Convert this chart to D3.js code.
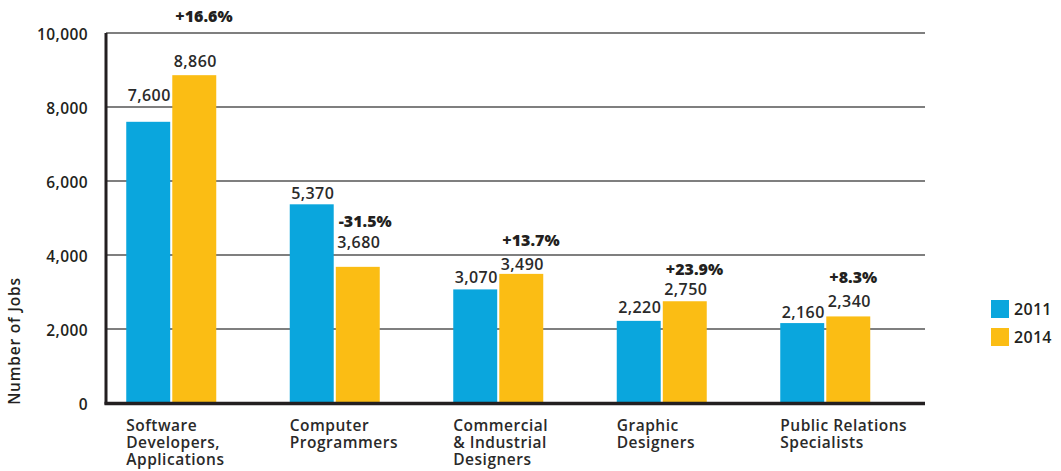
<!DOCTYPE html>
<html>
<head>
<meta charset="utf-8">
<script src="https://cdn.jsdelivr.net/npm/d3@7"></script>
<style>
  html, body { margin: 0; padding: 0; background: #fff; }
  svg { display: block; font-family: "Open Sans", "Noto Sans", sans-serif; }
</style>
</head>
<body>
<svg id="chart" width="1061" height="471"></svg>
<script>
// Job counts by occupation, 2011 vs 2014
const categories = [
  ["Software", "Developers,", "Applications"],
  ["Computer", "Programmers"],
  ["Commercial", "& Industrial", "Designers"],
  ["Graphic", "Designers"],
  ["Public Relations", "Specialists"]
];
const years = ["2011", "2014"];
const jobs2011 = [7600, 5370, 3070, 2220, 2160];
const jobs2014 = [8860, 3680, 3490, 2750, 2340];
const changeLabels = ["+16.6%", "-31.5%", "+13.7%", "+23.9%", "+8.3%"];
const yTicks = [0, 2000, 4000, 6000, 8000, 10000];

// Label placement tweaks (pixels above the bar top)
const lift2011 = [21, 5, 6, 8, 5];
const lift2014 = [8, 19, 4, 6, 9];
const pctAboveValue = [45, 21, 24, 20, 24];

const colors = { "2011": "#0AA6DD", "2014": "#FBBD14" };
const ink = "#231f20";
const txt = "#2a2a2a";

const svg = d3.select("#chart");
const plot = { left: 106, right: 925, top: 33, bottom: 403 };

const y = d3.scaleLinear().domain([0, 10000]).range([plot.bottom, plot.top]);
const x = d3.scaleBand().domain(d3.range(categories.length)).range([89.5, 907]);
const groupW = 90;
const xs = d3.scaleBand().domain(years).range([0, groupW]).paddingInner(0.045);

// Gridlines
svg.append("g")
  .selectAll("line")
  .data(yTicks.filter(d => d > 0))
  .join("line")
  .attr("x1", plot.left)
  .attr("x2", plot.right)
  .attr("y1", d => y(d))
  .attr("y2", d => y(d))
  .attr("stroke", "#555")
  .attr("stroke-width", 1.4);

// Tick labels
const yAxis = d3.axisLeft(y).tickValues(yTicks).tickSize(0).tickPadding(0)
  .tickFormat(d3.format(","));
const gy = svg.append("g").attr("transform", `translate(88,0)`).call(yAxis);
gy.select(".domain").remove();
gy.selectAll("text")
  .attr("font-family", "'Open Sans', sans-serif")
  .attr("font-size", 15.5)
  .attr("font-weight", 600)
  .attr("letter-spacing", 0.4)
  .attr("fill", ink)
  .attr("dy", "0.45em");

// Bars
const groups = svg.append("g").selectAll("g")
  .data(categories.map((c, i) => ({ i, v: [jobs2011[i], jobs2014[i]] })))
  .join("g")
  .attr("transform", d => `translate(${x(d.i) + (x.bandwidth() - groupW) / 2},0)`);

groups.selectAll("rect")
  .data(d => years.map((yr, k) => ({ yr, v: d.v[k] })))
  .join("rect")
  .attr("x", d => xs(d.yr))
  .attr("width", xs.bandwidth())
  .attr("y", d => y(d.v))
  .attr("height", d => y(0) - y(d.v))
  .attr("fill", d => colors[d.yr]);

// Value and change labels
groups.each(function (d) {
  const g = d3.select(this);
  const lifts = [lift2011[d.i], lift2014[d.i]];
  years.forEach((yr, k) => {
    g.append("text")
      .attr("x", xs(yr) + xs.bandwidth() / 2 + 1)
      .attr("y", y(d.v[k]) - lifts[k])
      .attr("text-anchor", "middle")
      .attr("font-size", 16)
      .attr("font-weight", 600)
      .attr("letter-spacing", 0.4)
      .attr("fill", txt)
      .text(d3.format(",")(d.v[k]));
  });
  g.append("text")
    .attr("x", xs("2014") + 3)
    .attr("y", y(d.v[1]) - lifts[1] - pctAboveValue[d.i])
    .attr("font-size", 16)
    .attr("font-weight", 800)
    .attr("fill", ink)
    .text(changeLabels[d.i]);
});

// Category labels, one text per line
groups.each(function (d) {
  d3.select(this).selectAll("text.cat")
    .data(categories[d.i])
    .join("text")
    .attr("class", "cat")
    .attr("x", 0)
    .attr("y", (t, k) => 431 + k * 17.2)
    .attr("font-size", 15.5)
    .attr("font-weight", 600)
    .attr("letter-spacing", 0.5)
    .attr("fill", txt)
    .text(t => t);
});

// Axis lines
svg.append("line")
  .attr("x1", plot.left).attr("x2", plot.left)
  .attr("y1", plot.top).attr("y2", plot.bottom + 1.5)
  .attr("stroke", ink).attr("stroke-width", 3);
svg.append("line")
  .attr("x1", plot.left - 1.5).attr("x2", plot.right)
  .attr("y1", plot.bottom + 0.5).attr("y2", plot.bottom + 0.5)
  .attr("stroke", ink).attr("stroke-width", 3.5);

// Axis title
svg.append("text")
  .attr("transform", "translate(20,341) rotate(-90)")
  .attr("text-anchor", "middle")
  .attr("font-size", 15.5)
  .attr("font-weight", 600)
  .attr("letter-spacing", 0.8)
  .attr("fill", ink)
  .text("Number of Jobs");

// Legend
const legend = svg.append("g").selectAll("g")
  .data(years)
  .join("g")
  .attr("transform", (d, k) => `translate(991,${300 + k * 28})`);
legend.append("rect")
  .attr("width", 18).attr("height", 18)
  .attr("fill", d => colors[d]);
legend.append("text")
  .attr("x", 23).attr("y", 15)
  .attr("font-size", 16)
  .attr("font-weight", 600)
  .attr("letter-spacing", 0.3)
  .attr("fill", ink)
  .text(d => d);
</script>
</body>
</html>
